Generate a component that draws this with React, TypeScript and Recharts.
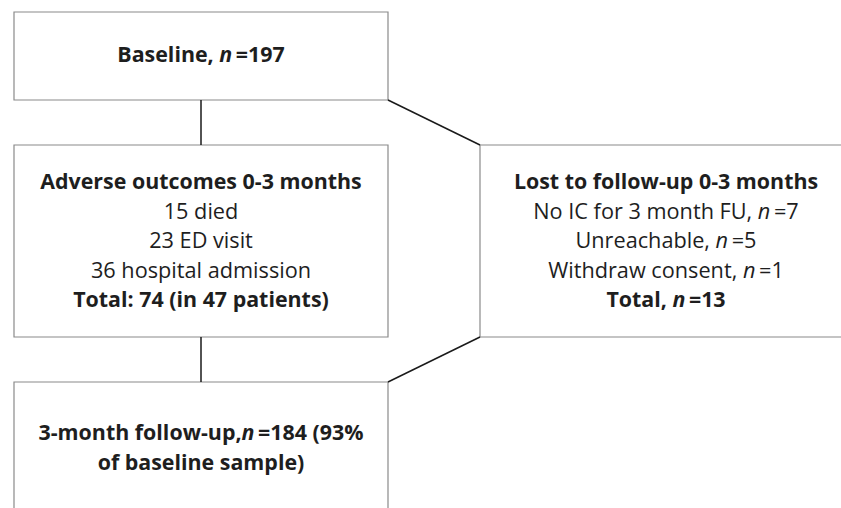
import React from "react";
import { ComposedChart, XAxis, YAxis, ReferenceArea, ReferenceLine, Scatter } from "recharts";

// Flowchart boxes (diagram units = pixels of the 841x508 canvas)
const boxIds = ["baseline", "adverse", "lost", "followup"];
const boxX1 = [14, 14, 480, 14];
const boxX2 = [388, 388, 856, 388];
const boxY1 = [12, 145, 145, 382];
const boxY2 = [100, 337, 337, 540];

// Connectors
const connectorFrom = [
  { x: 201, y: 100 },
  { x: 388, y: 100 },
  { x: 201, y: 337 },
  { x: 480, y: 337 },
];
const connectorTo = [
  { x: 201, y: 145 },
  { x: 480, y: 145 },
  { x: 201, y: 382 },
  { x: 388, y: 382 },
];

// Text content: segments [text, style] where style: b = bold, i = italic
type Seg = [string, string];
const baselineText: Seg[][] = [[["Baseline, ", "b"], ["n", "bi"], ["\u2009=197", "b"]]];
const adverseText: Seg[][] = [
  [["Adverse outcomes 0-3 months", "b"]],
  [["15 died", ""]],
  [["23 ED visit", ""]],
  [["36 hospital admission", ""]],
  [["Total: 74 (in 47 patients)", "b"]],
];
const lostText: Seg[][] = [
  [["Lost to follow-up 0-3 months", "b"]],
  [["No IC for 3 month FU, ", ""], ["n", "i"], ["\u2009=7", ""]],
  [["Unreachable, ", ""], ["n", "i"], ["\u2009=5", ""]],
  [["Withdraw consent, ", ""], ["n", "i"], ["\u2009=1", ""]],
  [["Total, ", "b"], ["n", "bi"], ["\u2009=13", "b"]],
];
const followupText: Seg[][] = [
  [["3-month follow-up,", "b"], ["n", "bi"], ["\u2009=184 (93%", "b"]],
  [["of baseline sample)", "b"]],
];

// Text group anchors (center x, first baseline y, line step)
const groupTexts = [baselineText, adverseText, lostText, followupText];
const groupX = [201, 201, 666, 201];
const groupY = [62, 189, 189, 440];
const groupStep = [29.5, 29.5, 29.5, 29.5];

const textData = groupTexts.map((lines, g) => ({
  x: groupX[g],
  y: groupY[g],
  step: groupStep[g],
  lines,
}));

const FONT = "'Open Sans', Lato, sans-serif";
const TEXT_COLOR = "#1e1e1e";

const TextBlock = (props: any) => {
  const { cx, cy, payload } = props;
  const lines: Seg[][] = payload.lines;
  const step: number = payload.step;
  return (
    <text x={cx} y={cy} textAnchor="middle" fontFamily={FONT} fill={TEXT_COLOR}>
      {lines.map((segs, i) => (
        <tspan key={i} x={cx} y={cy + i * step}>
          {segs.map(([t, s], k) => (
            <tspan
              key={k}
              fontSize={s.includes("b") ? 21.4 : 21.7}
              fontWeight={s.includes("b") ? 700 : 400}
              fontStyle={s.includes("i") ? "italic" : "normal"}
              style={{ whiteSpace: "pre" }}
            >
              {t}
            </tspan>
          ))}
        </tspan>
      ))}
    </text>
  );
};

export default function App() {
  return (
    <div style={{ position: "absolute", left: 0, top: 0, width: 841, height: 508, background: "#fff" }}>
      <ComposedChart width={841} height={508} margin={{ top: 0, right: 0, bottom: 0, left: 0 }} data={textData}>
        <XAxis type="number" dataKey="x" domain={[0, 841]} hide allowDataOverflow />
        <YAxis type="number" dataKey="y" domain={[0, 508]} reversed hide allowDataOverflow width={0} />
        {boxIds.map((id, i) => (
          <ReferenceArea
            key={id}
            x1={boxX1[i]}
            x2={boxX2[i]}
            y1={boxY1[i]}
            y2={boxY2[i]}
            ifOverflow="hidden"
            fill="#ffffff"
            fillOpacity={1}
            stroke="#8a8a8a"
            strokeWidth={1.2}
          />
        ))}
        {connectorFrom.map((p, i) => (
          <ReferenceLine
            key={i}
            segment={[p, connectorTo[i]]}
            stroke="#1a1a1a"
            strokeWidth={1.5}
            ifOverflow="visible"
          />
        ))}
        <Scatter data={textData} dataKey="y" shape={TextBlock} isAnimationActive={false} />
      </ComposedChart>
    </div>
  );
}
